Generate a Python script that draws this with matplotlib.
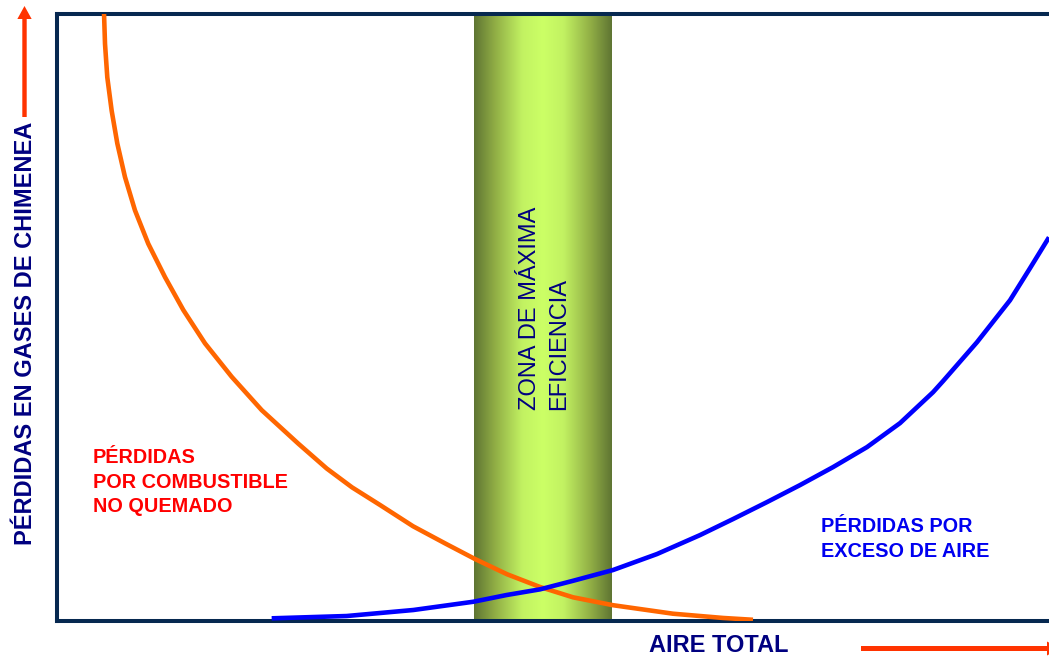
import numpy as np
import matplotlib
matplotlib.use("Agg")
import matplotlib.pyplot as plt
from matplotlib.colors import LinearSegmentedColormap
from matplotlib.patches import FancyArrow

plt.rcParams['font.family'] = ['Liberation Sans', 'DejaVu Sans']

# curve data (x: aire total, y: perdidas), arbitrary 0-100 units
orange_x = [4.74, 4.84, 5.07, 5.51, 6.08, 6.85, 7.86, 9.20, 10.89, 12.73, 14.92,
            17.61, 20.64, 24.32, 27.19, 29.74, 32.56, 35.89, 39.21, 42.14, 45.36,
            48.69, 52.02, 56.05, 62.10, 67.14, 70.16]
orange_y = [100, 95.0, 89.5, 84.0, 78.6, 73.1, 67.6, 62.1, 56.6, 51.2, 45.7,
            40.2, 34.7, 29.2, 25.1, 22.0, 19.1, 15.6, 12.7, 10.2, 7.7,
            5.6, 3.9, 2.6, 1.2, 0.5, 0.2]

blue_x = [21.64, 29.20, 35.92, 41.97, 45.33, 48.69, 52.05, 56.05, 60.48, 64.82,
          68.15, 71.57, 74.90, 78.23, 81.65, 84.98, 88.31, 89.31, 92.74, 96.07,
          98.08, 100.0]
blue_y = [0.44, 0.82, 1.81, 3.17, 4.28, 5.21, 6.63, 8.39, 11.02, 14.14,
          16.78, 19.57, 22.37, 25.33, 28.62, 32.57, 37.66, 39.47, 45.89, 52.80,
          58.06, 63.16]

# zone of max efficiency (x range)
zona = [42.0, 55.9]

W, H = 1049, 658
NAVY = '#000080'
FRAME = '#062850'
ARROW = '#FF3300'

fig = plt.figure(figsize=(W / 100, H / 100), dpi=100)
ax = fig.add_axes([57 / W, (H - 621) / H, (1049 - 57) / W, (621 - 13.5) / H])
ax.set_xlim(0, 100)
ax.set_ylim(0, 100)
ax.set_xticks([])
ax.set_yticks([])
for side in ['left', 'top', 'bottom']:
    ax.spines[side].set_color(FRAME)
    ax.spines[side].set_linewidth(2.9)
ax.spines['right'].set_visible(False)

# green band with a horizontal shading
band_cmap = LinearSegmentedColormap.from_list(
    'band', [(0.0, '#5F7533'), (0.15, '#90AD45'), (0.35, '#C2F262'),
             (0.5, '#CCFF66'), (0.65, '#C2F262'), (0.85, '#90AD45'), (1.0, '#5F7533')])
grad = np.linspace(0, 1, 256).reshape(1, -1)
ax.imshow(grad, cmap=band_cmap, extent=(zona[0], zona[1], 0, 100),
          aspect='auto', zorder=1)

ax.plot(orange_x, orange_y, color='#FF6600', lw=3.3, zorder=3,
        solid_capstyle='butt', solid_joinstyle='round')
ax.plot(blue_x, blue_y, color='#0000FF', lw=3.3, zorder=3,
        solid_capstyle='butt', solid_joinstyle='round')

# text inside the band
ax.text(47.7, 34.7, 'ZONA DE MÁXIMA', rotation=90, ha='center', va='bottom',
        color=NAVY, fontsize=17, zorder=4)
ax.text(50.6, 34.7, 'EFICIENCIA', rotation=90, ha='center', va='bottom',
        color=NAVY, fontsize=17, zorder=4)


def px(x, y):
    return x / W, 1 - y / H


# curve labels
for i, line in enumerate(['PÉRDIDAS', 'POR COMBUSTIBLE', 'NO QUEMADO']):
    fig.text(*px(93, 463 + 24.5 * i), line, color='#FF0000', fontsize=14.3,
             fontweight='bold', ha='left', va='baseline')
for i, line in enumerate(['PÉRDIDAS POR', 'EXCESO DE AIRE']):
    fig.text(*px(821, 531.7 + 25 * i), line, color='#0000F0', fontsize=14.3,
             fontweight='bold', ha='left', va='baseline')

# axis titles
fig.text(*px(25.5, 333.5), 'PÉRDIDAS EN GASES DE CHIMENEA', rotation=90,
         color=NAVY, fontsize=17, fontweight='bold', ha='center', va='center')
fig.text(*px(718.5, 652), 'AIRE TOTAL', color=NAVY, fontsize=17,
         fontweight='bold', ha='center', va='baseline')

# direction arrows
fig.add_artist(FancyArrow(24.5 / W, 1 - 117 / H, 0, (117 - 6) / H,
                          width=4.4 / W, head_width=14.3 / W, head_length=13 / H,
                          length_includes_head=True, color=ARROW, lw=0,
                          transform=fig.transFigure))
fig.add_artist(FancyArrow(861 / W, 1 - 648.5 / H, (1060 - 861) / W, 0,
                          width=5 / H, head_width=14 / H, head_length=13 / W,
                          length_includes_head=True, color=ARROW, lw=0,
                          transform=fig.transFigure))

fig.savefig('out.png', dpi=100)
